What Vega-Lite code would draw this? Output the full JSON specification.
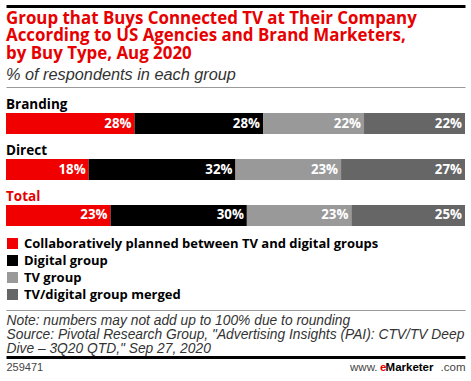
{
  "$schema": "https://vega.github.io/schema/vega-lite/v6.json",
  "width": 459,
  "height": 223,
  "autosize": {"type": "none"},
  "padding": {"left": 6, "top": 87, "right": 6, "bottom": 71},
  "background": "white",
  "config": {
    "view": {"stroke": null},
    "font": "Open Sans",
    "axis": {"ticks": false, "labels": false, "grid": false, "domain": false}
  },
  "title": {
    "text": ["Group that Buys Connected TV at Their Company", "According to US Agencies and Brand Marketers,", "by Buy Type, Aug 2020"],
    "subtitle": "% of respondents in each group",
    "anchor": "start",
    "frame": "group",
    "offset": -78,
    "font": "Open Sans",
    "fontSize": 16.9,
    "fontWeight": "bold",
    "color": "#e60000",
    "lineHeight": 17.5,
    "subtitleFont": "Liberation Sans",
    "subtitleFontSize": 16.3,
    "subtitleFontStyle": "italic",
    "subtitleColor": "#333333",
    "subtitlePadding": 4
  },
  "datasets": {
    "bars": [
      {"group": "Branding", "k": 1, "cat": "Collaboratively planned between TV and digital groups", "pct": 0.28},
      {"group": "Branding", "k": 2, "cat": "Digital group", "pct": 0.28},
      {"group": "Branding", "k": 3, "cat": "TV group", "pct": 0.22},
      {"group": "Branding", "k": 4, "cat": "TV/digital group merged", "pct": 0.22},
      {"group": "Direct", "k": 1, "cat": "Collaboratively planned between TV and digital groups", "pct": 0.18},
      {"group": "Direct", "k": 2, "cat": "Digital group", "pct": 0.32},
      {"group": "Direct", "k": 3, "cat": "TV group", "pct": 0.23},
      {"group": "Direct", "k": 4, "cat": "TV/digital group merged", "pct": 0.27},
      {"group": "Total", "k": 1, "cat": "Collaboratively planned between TV and digital groups", "pct": 0.23},
      {"group": "Total", "k": 2, "cat": "Digital group", "pct": 0.30},
      {"group": "Total", "k": 3, "cat": "TV group", "pct": 0.23},
      {"group": "Total", "k": 4, "cat": "TV/digital group merged", "pct": 0.25}
    ],
    "labels": [
      {"group": "Branding", "total": false},
      {"group": "Direct", "total": false},
      {"group": "Total", "total": true}
    ]
  },
  "resolve": {"axis": {"x": "independent", "y": "independent"}},
  "layer": [
    {
      "data": {"name": "bars"},
      "transform": [
        {"stack": "pct", "groupby": ["group"], "sort": [{"field": "k"}], "offset": "normalize", "as": ["x0", "x1"]}
      ],
      "mark": {"type": "bar"},
      "encoding": {
        "x": {"field": "x0", "type": "quantitative", "scale": {"domain": [0, 1], "nice": false, "zero": true},
          "axis": {"orient": "top", "domain": true, "domainColor": "#999999", "domainWidth": 1,
            "title": "e", "titleX": 380, "titleY": 283, "titleAlign": "right", "titleAngle": 0, "titleBaseline": "alphabetic",
            "titleFont": "Liberation Sans", "titleFontSize": 11.5, "titleFontWeight": "bold", "titleColor": "#e60000"}},
        "x2": {"field": "x1"},
        "y": {"field": "group", "type": "nominal", "sort": ["Branding", "Direct", "Total"],
          "scale": {"domain": ["Branding", "Direct", "Total"], "range": [0, 165], "paddingInner": 0.543, "paddingOuter": 0.565},
          "axis": null},
        "color": {"field": "cat", "type": "nominal",
          "scale": {"domain": ["Collaboratively planned between TV and digital groups", "Digital group", "TV group", "TV/digital group merged"],
            "range": ["#f00000", "#000000", "#999999", "#666666"]},
          "legend": {"orient": "none", "legendX": 0, "legendY": 150, "title": null, "symbolType": "square", "symbolSize": 121,
            "symbolStrokeWidth": 0, "labelFont": "Open Sans", "labelFontWeight": "bold", "labelFontSize": 13, "labelColor": "#000000",
            "labelOffset": 5, "labelLimit": 460, "rowPadding": 3, "padding": 0}}
      }
    },
    {
      "data": {"name": "bars"},
      "transform": [
        {"stack": "pct", "groupby": ["group"], "sort": [{"field": "k"}], "offset": "normalize", "as": ["x0", "x1"]}
      ],
      "mark": {"type": "text", "align": "right", "baseline": "middle", "dx": -3, "font": "Open Sans", "fontWeight": "bold", "fontSize": 13.3, "color": "white"},
      "encoding": {
        "x": {"field": "x1", "type": "quantitative",
          "axis": {"orient": "bottom", "domain": true, "domainColor": "#999999", "domainWidth": 1,
            "title": ["Note: numbers may not add up to 100% due to rounding", "Source: Pivotal Research Group, \"Advertising Insights (PAI): CTV/TV Deep", "Dive – 3Q20 QTD,\" Sep 27, 2020"],
            "titleX": 0, "titleY": 14, "titleAlign": "left", "titleBaseline": "alphabetic", "titleFont": "Liberation Sans", "titleFontSize": 13.8,
            "titleFontStyle": "italic", "titleFontWeight": "normal", "titleColor": "#333333", "titleLineHeight": 14}},
        "y": {"field": "group", "type": "nominal",
          "axis": {"orient": "right", "title": ".com", "titleAngle": 0, "titleAlign": "right", "titleBaseline": "alphabetic",
            "titleX": 0, "titleY": 283, "titleFont": "Liberation Sans", "titleFontSize": 11.5, "titleFontWeight": "normal", "titleColor": "#444444"}},
        "text": {"field": "pct", "type": "quantitative", "format": ".0%"},
        "detail": {"field": "k"}
      }
    },
    {
      "data": {"name": "labels"},
      "transform": [{"filter": "!datum.total"}],
      "mark": {"type": "text", "align": "left", "baseline": "alphabetic", "dy": -4, "font": "Open Sans", "fontWeight": "bold", "fontSize": 13.5, "color": "#000000"},
      "encoding": {
        "x": {"datum": 0, "type": "quantitative",
          "axis": {"orient": "bottom", "offset": 47, "domain": true, "domainColor": "#000000", "domainWidth": 3,
            "title": "259471", "titleX": 0, "titleY": 13, "titleAlign": "left", "titleBaseline": "alphabetic", "titleFont": "Liberation Sans",
            "titleFontSize": 11, "titleFontWeight": "normal", "titleColor": "#444444"}},
        "y": {"field": "group", "type": "nominal", "bandPosition": 0,
          "axis": {"orient": "right", "title": "www.", "titleAngle": 0, "titleAlign": "right", "titleBaseline": "alphabetic",
            "titleX": -88, "titleY": 283, "titleFont": "Liberation Sans", "titleFontSize": 11.5, "titleFontWeight": "normal", "titleColor": "#444444"}},
        "text": {"field": "group"}
      }
    },
    {
      "data": {"name": "labels"},
      "transform": [{"filter": "datum.total"}],
      "mark": {"type": "text", "align": "left", "baseline": "alphabetic", "dy": -4, "font": "Open Sans", "fontWeight": "bold", "fontSize": 13.5, "color": "#e60000"},
      "encoding": {
        "x": {"datum": 0, "type": "quantitative",
          "axis": {"orient": "top", "offset": 81, "domain": true, "domainColor": "#000000", "domainWidth": 3,
            "title": "Marketer", "titleX": 427, "titleY": 364, "titleAlign": "right", "titleAngle": 0, "titleBaseline": "alphabetic",
            "titleFont": "Liberation Sans", "titleFontSize": 11.5, "titleFontWeight": "bold", "titleColor": "#000000"}},
        "y": {"field": "group", "type": "nominal", "bandPosition": 0, "axis": null},
        "text": {"field": "group"}
      }
    }
  ]
}
